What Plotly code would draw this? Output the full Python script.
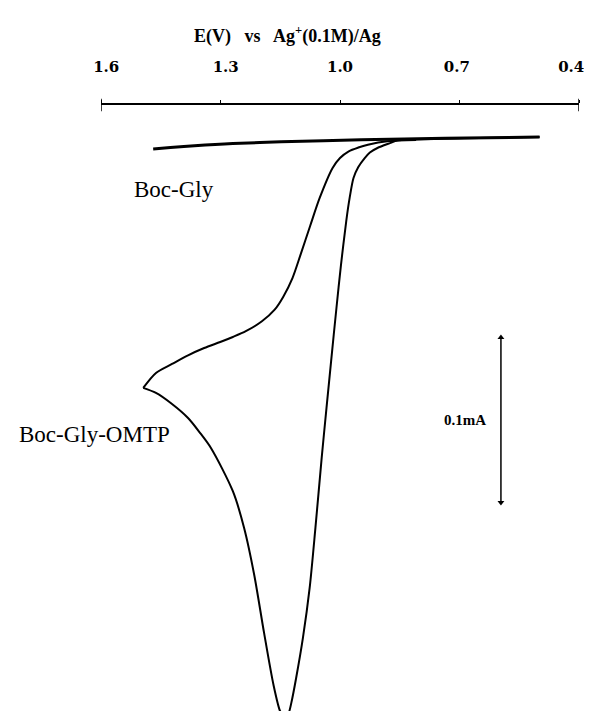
import plotly.graph_objects as go

# ---- data (E in V vs Ag+/Ag, current in mA, anodic plotted downward) ----
tick_vals = [1.6, 1.3, 1.0, 0.7, 0.4]
tick_text = ["&nbsp;&nbsp;1.6", "&nbsp;&nbsp;1.3", "1.0", "0.7&nbsp;", "0.4&nbsp;&nbsp;&nbsp;"]

gly_E = [1.469, 1.4258, 1.3653, 1.269, 1.148, 0.947, 0.736, 0.499]
gly_i = [0.0064, 0.0054, 0.0041, 0.0025, 0.0013, -0.0001, -0.0012, -0.0021]

# forward scan of Boc-Gly-OMTP (0.5 V -> vertex)
omtp_fwd_E = [0.499, 0.688, 0.809, 0.857, 0.873, 0.906, 0.925, 0.938, 0.954, 0.9661,
              0.9758, 0.9843, 0.9976, 1.0089, 1.0223, 1.0339, 1.046, 1.0617, 1.0762, 1.0931,
              1.1101, 1.1222, 1.1294, 1.1355, 1.1415, 1.1505, 1.1669, 1.1906, 1.2153, 1.2407,
              1.269, 1.324, 1.353, 1.3815, 1.4217, 1.462, 1.494]
omtp_fwd_i = [-0.0021, -0.0013, -0.0004, 0.0004, 0.0021, 0.0057, 0.0089, 0.0129, 0.0193, 0.0271,
              0.0414, 0.0579, 0.0893, 0.1200, 0.1579, 0.1914, 0.2271, 0.2771, 0.3200, 0.3557,
              0.3843, 0.4021, 0.4100, 0.4125, 0.4118, 0.4079, 0.3893, 0.3521, 0.3107, 0.2771,
              0.2509, 0.2200, 0.2086, 0.1986, 0.1886, 0.1807, 0.1771]
# reverse scan (vertex -> back to baseline)
omtp_rev_E = [1.494, 1.462, 1.4217, 1.3815, 1.341, 1.3007, 1.269, 1.2364, 1.196, 1.164,
              1.1427, 1.1193, 1.099, 1.075, 1.051, 1.0186, 1.0, 0.978, 0.954, 0.930,
              0.881, 0.809]
omtp_rev_i = [0.1771, 0.1664, 0.1600, 0.1538, 0.1486, 0.1443, 0.1407, 0.1366, 0.1295, 0.1212,
              0.1121, 0.0986, 0.0819, 0.0614, 0.0414, 0.0200, 0.0129, 0.0081, 0.0054, 0.0034,
              0.0009, 0.0]

scale_E = [0.596, 0.596]
scale_i = [0.141, 0.259]  # extent of the "0.1mA" scale bar

fig = go.Figure()
fig.add_trace(go.Scatter(x=gly_E, y=gly_i, mode="lines",
                         line=dict(color="black", width=3, shape="spline", smoothing=0.8),
                         showlegend=False, hoverinfo="skip"))
fig.add_trace(go.Scatter(x=omtp_fwd_E, y=omtp_fwd_i, mode="lines",
                         line=dict(color="black", width=2, shape="spline", smoothing=0.8),
                         showlegend=False, hoverinfo="skip"))
fig.add_trace(go.Scatter(x=omtp_rev_E, y=omtp_rev_i, mode="lines",
                         line=dict(color="black", width=2, shape="spline", smoothing=0.8),
                         showlegend=False, hoverinfo="skip"))
# scale bar with arrow heads at both ends
fig.add_trace(go.Scatter(x=scale_E, y=scale_i, mode="lines+markers",
                         line=dict(color="black", width=1.5),
                         marker=dict(symbol=["triangle-up", "triangle-down"], size=6,
                                     color="black"),
                         showlegend=False, hoverinfo="skip"))

serif = "Liberation Serif"

fig.add_annotation(x=0.6855, y=0.2, xref="x", yref="y", text="0.1mA",
                   showarrow=False, font=dict(family=serif, size=15, color="black", weight="bold"))

fig.add_annotation(x=1.5226, y=0.0357, xref="x", yref="y", text="Boc-Gly",
                   xanchor="left", yanchor="middle", showarrow=False,
                   font=dict(family=serif, size=23, color="black"))
fig.add_annotation(x=1.421, y=0.2107, xref="x", yref="y", text="Boc-Gly-OMTP",
                   xanchor="right", yanchor="middle", showarrow=False,
                   font=dict(family=serif, size=23, color="black"))

fig.add_annotation(x=0.391, y=1.114, xref="paper", yref="paper",
                   xanchor="center", yanchor="middle",
                   text="E(V)&nbsp;&nbsp; vs&nbsp;&nbsp; Ag<sup>+</sup>(0.1M)/Ag", showarrow=False,
                   font=dict(family=serif, size=18, color="black", weight="bold"))

# end caps of the potential axis
for e in (tick_vals[0], tick_vals[-1]):
    fig.add_shape(type="line", xref="x", yref="paper", x0=e, x1=e, y0=0.99, y1=1.01,
                  line=dict(color="black", width=1.5))

fig.update_layout(
    width=592, height=711,
    margin=dict(l=93, r=3, t=97, b=0),
    paper_bgcolor="white", plot_bgcolor="white",
    xaxis=dict(range=[1.6, 0.4], side="top", showline=True, linecolor="black",
               linewidth=1.5, ticks="outside", ticklen=3, tickcolor="black",
               tickvals=tick_vals, ticktext=tick_text, showgrid=False, zeroline=False,
               ticklabelstandoff=22, ticklabeloverflow="allow",
               tickfont=dict(family="DejaVu Serif", size=15, color="black", weight="bold")),
    yaxis=dict(range=[0.4136, -0.025], visible=False, showgrid=False, zeroline=False),
)

fig.write_html("out.html")
